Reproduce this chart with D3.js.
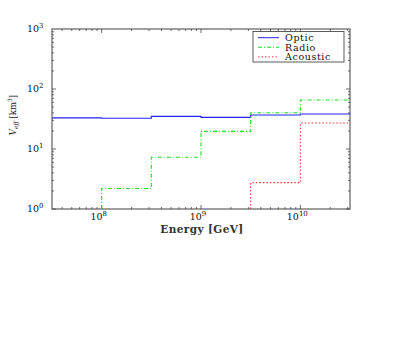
<!DOCTYPE html>
<html>
<head>
<meta charset="utf-8">
<script src="https://cdn.jsdelivr.net/npm/d3@7"></script>
<style>
body { margin: 0; background: #fff; }
text { font-family: "DejaVu Serif", "Liberation Serif", serif; }
</style>
</head>
<body>
<svg id="chart" width="409" height="354"></svg>
<script>
// bin edges in log10(E/GeV), half decade bins
var binEdges = [7.5, 8, 8.5, 9, 9.5, 10, 10.5];
var optic = [33, 32.5, 35, 33.7, 36.9, 38.3];
var radio = [null, 2.2, 7.3, 19.7, 40.3, 65.6];
var acoustic = [null, null, null, null, 2.75, 27.1];
var xTicks = [8, 9, 10];
var yTicks = [0, 1, 2, 3];

var svg = d3.select("#chart");
var pLeft = 52, pRight = 350, pTop = 29, pBottom = 209;

var x = d3.scaleLog().domain([Math.pow(10, 7.5), Math.pow(10, 10.5)]).range([pLeft, pRight]);
var y = d3.scaleLog().domain([1, 1000]).range([pBottom, pTop]);

// frame
svg.append("rect")
    .attr("x", pLeft).attr("y", pTop)
    .attr("width", pRight - pLeft).attr("height", pBottom - pTop)
    .attr("fill", "none").attr("stroke", "#777").attr("stroke-width", 1.4);

// ticks, inward on all four sides
var xMinor = [], yMinor = [];
for (var e = 7; e <= 10; e++) {
    for (var m = 1; m < 10; m++) {
        var v = m * Math.pow(10, e);
        if (v >= x.domain()[0] && v <= x.domain()[1]) xMinor.push({v: v, major: m === 1});
    }
}
for (var e2 = 0; e2 <= 2; e2++) {
    for (var m2 = 1; m2 < 10; m2++) {
        yMinor.push({v: m2 * Math.pow(10, e2), major: m2 === 1});
    }
}
var tg = svg.append("g").attr("stroke", "#444").attr("stroke-width", 0.8);
xMinor.forEach(function(d) {
    var len = d.major ? 4 : 2;
    tg.append("line").attr("x1", x(d.v)).attr("x2", x(d.v)).attr("y1", pBottom).attr("y2", pBottom - len);
    tg.append("line").attr("x1", x(d.v)).attr("x2", x(d.v)).attr("y1", pTop).attr("y2", pTop + len);
});
yMinor.forEach(function(d) {
    var len = d.major ? 4 : 2;
    tg.append("line").attr("y1", y(d.v)).attr("y2", y(d.v)).attr("x1", pLeft).attr("x2", pLeft + len);
    tg.append("line").attr("y1", y(d.v)).attr("y2", y(d.v)).attr("x1", pRight).attr("x2", pRight - len);
});

// tick labels
function powLabel(sel, ex) {
    sel.append("tspan").text("10");
    sel.append("tspan").attr("dy", -4).attr("font-size", 7).text(ex);
}
xTicks.forEach(function(t) {
    var lbl = svg.append("text")
        .attr("x", x(Math.pow(10, t)) - 3).attr("y", 219.5)
        .attr("text-anchor", "middle").attr("font-size", 9.5).attr("fill", "#111");
    powLabel(lbl, t);
});
yTicks.forEach(function(t) {
    var lbl = svg.append("text")
        .attr("x", 27).attr("y", y(Math.pow(10, t)) + 3)
        .attr("font-size", 9.5).attr("fill", "#111");
    powLabel(lbl, t);
});

// axis titles
svg.append("text")
    .attr("x", 202).attr("y", 232.5)
    .attr("text-anchor", "middle").attr("font-size", 10.5).attr("font-weight", "bold")
    .attr("letter-spacing", 0.4).attr("fill", "#333")
    .text("Energy [GeV]");

var yl = svg.append("text")
    .attr("transform", "translate(16,115) rotate(-90)")
    .attr("text-anchor", "middle").attr("font-size", 8.5).attr("fill", "#222");
yl.append("tspan").attr("font-style", "italic").text("V");
yl.append("tspan").attr("font-style", "italic").attr("font-size", 6).attr("dy", 2).text("eff");
yl.append("tspan").attr("dy", -2).text(" [km");
yl.append("tspan").attr("dy", -4).attr("font-size", 6).text("3");
yl.append("tspan").attr("dy", 4).text("]");

// step histogram path from bins
function stepPath(vals) {
    var p = "";
    var prev = null;
    vals.forEach(function(v, i) {
        var x0 = x(Math.pow(10, binEdges[i])), x1 = x(Math.pow(10, binEdges[i + 1]));
        if (v == null) { prev = null; return; }
        var yy = y(v);
        if (prev == null) {
            p += (i === 0 ? "M" + x0 + "," + yy : "M" + x0 + "," + pBottom + "L" + x0 + "," + yy);
        } else {
            p += "L" + x0 + "," + yy;
        }
        p += "L" + x1 + "," + yy;
        prev = v;
    });
    return p;
}

var series = [
    {name: "Optic", vals: optic, color: "#2323ff", dash: null},
    {name: "Radio", vals: radio, color: "#22dd22", dash: "4,2,1,2"},
    {name: "Acoustic", vals: acoustic, color: "#ff3333", dash: "1.5,2"}
];

svg.append("defs").append("clipPath").attr("id", "clip")
    .append("rect").attr("x", pLeft).attr("y", pTop).attr("width", pRight - pLeft).attr("height", pBottom - pTop);

series.forEach(function(s) {
    svg.append("path")
        .attr("d", stepPath(s.vals))
        .attr("fill", "none")
        .attr("stroke", s.color)
        .attr("stroke-width", 1.1)
        .attr("stroke-dasharray", s.dash)
        .attr("clip-path", "url(#clip)");
});

// legend
var lg = svg.append("g");
lg.append("rect").attr("x", 253).attr("y", 31.5).attr("width", 91).attr("height", 30.5)
    .attr("fill", "#fff").attr("stroke", "#333").attr("stroke-width", 0.8);
series.forEach(function(s, i) {
    var ly = 37.7 + i * 9.6;
    lg.append("line").attr("x1", 258).attr("x2", 279).attr("y1", ly).attr("y2", ly)
        .attr("stroke", s.color).attr("stroke-width", 1).attr("stroke-dasharray", s.dash);
    lg.append("text").attr("x", 285).attr("y", ly + 3.2)
        .attr("font-size", 9.5).attr("letter-spacing", 0.6).attr("fill", "#111").text(s.name);
});
</script>
</body>
</html>
